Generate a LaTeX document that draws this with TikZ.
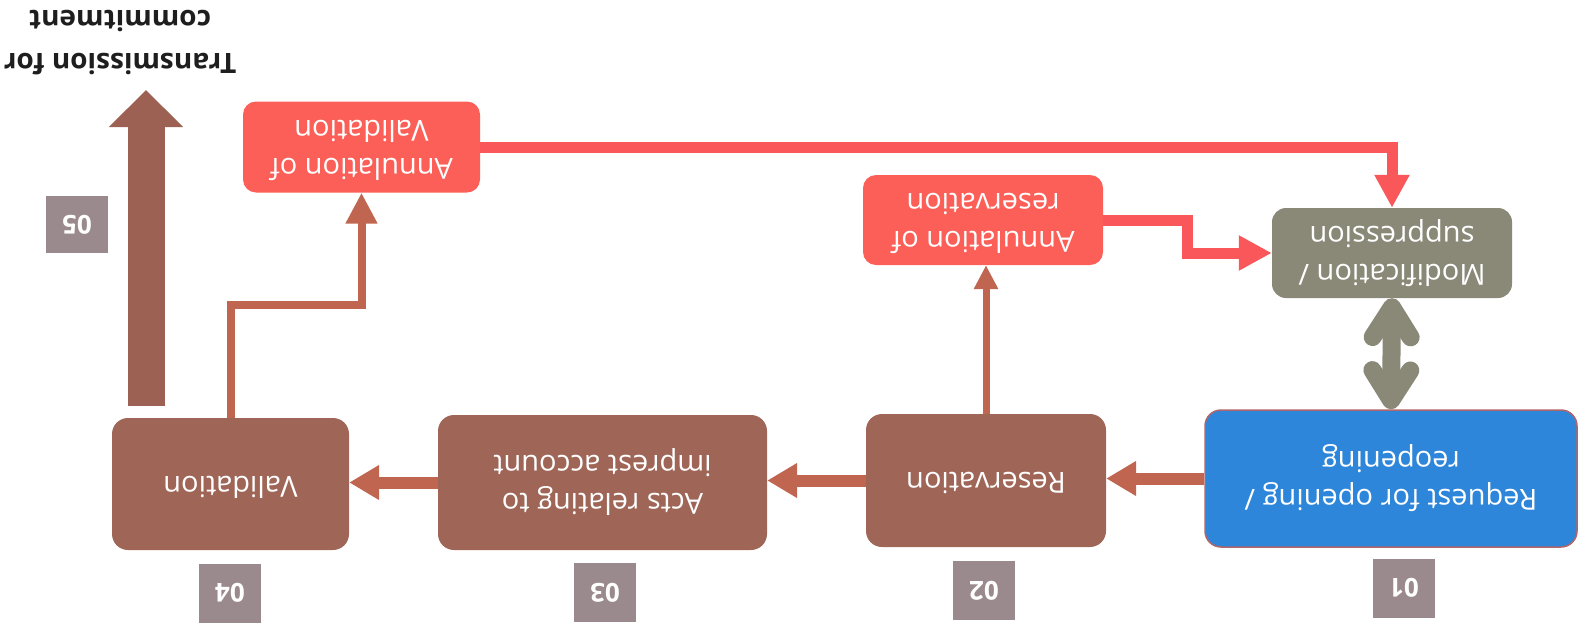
\documentclass[tikz,border=0pt]{standalone}
\usepackage{fontspec}
\usepackage{graphicx}
\setmainfont{Open Sans}
\usetikzlibrary{arrows.meta,calc}

\definecolor{stepbrown}{HTML}{9F6658}
\definecolor{linkbrown}{HTML}{C0654F}
\definecolor{bigbrown}{HTML}{9C6152}
\definecolor{cancelred}{HTML}{FC5F57}
\definecolor{linkred}{HTML}{F9575A}
\definecolor{editgray}{HTML}{8A8877}
\definecolor{startblue}{HTML}{2D86D9}
\definecolor{startedge}{HTML}{B0656A}
\definecolor{tagmauve}{HTML}{9A898D}
\definecolor{titleink}{HTML}{1E1E1E}

% text turned upside down, one or more centred lines
\newcommand{\upsidedown}[1]{\rotatebox[origin=c]{180}{\begin{tabular}{@{}c@{}}#1\end{tabular}}}

\begin{document}
\begin{tikzpicture}[x=1pt, y=-1pt,
  panel/.style={rectangle, inner sep=0pt, text=white,
    font=\fontsize{29}{38}\selectfont},
  stepbox/.style={panel, rounded corners=16pt, fill=stepbrown},
  startbox/.style={panel, rounded corners=16pt, fill=startblue, draw=startedge, line width=1.5pt},
  cancelbox/.style={panel, rounded corners=13pt, fill=cancelred},
  editbox/.style={panel, rounded corners=14pt, fill=editgray},
  tag/.style={rectangle, inner sep=0pt, fill=tagmauve, text=white,
    minimum width=62pt, minimum height=59pt,
    font=\bfseries\fontsize{26}{30}\selectfont},
  brownlink/.style={draw=linkbrown, line width=12pt,
    -{Triangle[width=33pt,length=30pt]}},
  thinlink/.style={draw=linkbrown, line width=8pt,
    -{Triangle[width=30pt,length=31pt]}},
  slimlink/.style={draw=linkbrown, line width=7pt,
    -{Triangle[width=23pt,length=24pt]}},
  redlink/.style={draw=linkred, line width=11pt,
    -{Triangle[width=33pt,length=33pt]}},
  graylink/.style={draw=editgray, line width=18pt,
    {Straight Barb[length=30pt,width=38pt,round]}-{Straight Barb[length=30pt,width=38pt,round]}},
  bigflow/.style={draw=bigbrown, line width=37pt,
    -{Triangle[width=72pt,length=37pt]}}
]
\useasboundingbox (0,0) rectangle (1582,630);

% process steps
\node[startbox, minimum width=372pt, minimum height=137pt] (req) at (1391,478.5)
  {\upsidedown{Request for opening /\\reopening}};
\node[stepbox, minimum width=240pt, minimum height=133pt] (res) at (986,480.5)
  {\upsidedown{Reservation}};
\node[stepbox, minimum width=329pt, minimum height=135pt] (acts) at (602.5,482.5)
  {\upsidedown{Acts relating to\\imprest account}};
\node[stepbox, minimum width=237pt, minimum height=132pt] (val) at (230.5,484)
  {\upsidedown{Validation}};

% side actions
\node[editbox, minimum width=240pt, minimum height=90pt] (mod) at (1392,253)
  {\upsidedown{Modification /\\suppression}};
\node[cancelbox, minimum width=240pt, minimum height=90pt] (annres) at (983,220)
  {\upsidedown{Annulation of\\reservation}};
\node[cancelbox, minimum width=237pt, minimum height=91pt] (annval) at (361.5,147)
  {\upsidedown{Annulation of\\Validation}};

% step numbers
\node[tag] (tag1) at (1404,588) {\rotatebox[origin=c]{180}{01}};
\node[tag] (tag2) at (984,590.5) {\rotatebox[origin=c]{180}{02}};
\node[tag] (tag3) at (605,592.5) {\rotatebox[origin=c]{180}{03}};
\node[tag] (tag4) at (230,593) {\rotatebox[origin=c]{180}{04}};
\node[tag, minimum height=57pt] (tag5) at (77,224.5) {\rotatebox[origin=c]{180}{05}};

% final hand-over
\node[text=titleink, inner sep=0pt, font=\bfseries\fontsize{28}{43}\selectfont] (goal) at (120,41)
  {\upsidedown{Transmission for\\commitment}};
\coordinate (sendtip) at (146,90);
\draw[bigflow] ($(val.north -| sendtip)+(0,-12)$) -- (sendtip);

% main flow
\draw[brownlink] (req.west) -- (req.west -| res.east);
\draw[brownlink] (res.west) -- (res.west -| acts.east);
\draw[brownlink] (acts.west) -- (acts.west -| val.east);

% branches
\draw[slimlink] (res.north) -- (res.north |- annres.south);
\draw[thinlink] (val.north) -- ++(0,-113) -| (annval.south);
\draw[redlink] (annres.east) -- ++(84,0) |- (mod.west);
\draw[redlink] (annval.east) -| (mod.north);
\draw[graylink] (mod.south) -- (req.north);
\end{tikzpicture}
\end{document}
